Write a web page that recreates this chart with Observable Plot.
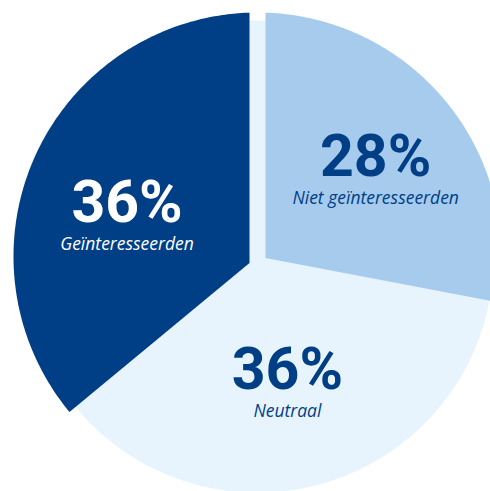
<!DOCTYPE html>
<html>
<head>
<meta charset="utf-8">
<script src="https://cdn.jsdelivr.net/npm/d3@7"></script>
<script src="https://cdn.jsdelivr.net/npm/@observablehq/plot@0.6"></script>
<style>
  html, body { margin: 0; padding: 0; background: #ffffff; }
  #chart svg { display: block; }
</style>
</head>
<body>
<div id="chart"></div>
<script>
// ---- data ----
const categories = ["Niet geïnteresseerden", "Neutraal", "Geïnteresseerden"];
const values = [28, 36, 36];
const valueLabels = ["28%", "36%", "36%"];

// ---- style / layout ----
const colors = ["#a6cbed", "#e8f4fd", "#003e86"];
const textColors = ["#003e86", "#003e86", "#ffffff"];
const W = 490, H = 491, CX = 257, CY = 256;
const radii = [244, 236, 244];
const gapAtTop = 8;            // offset of the two edges meeting at 12 o'clock
const labelShift = [8.5, 2.5, -14]; // degrees relative to slice mid-angle
const labelRadius = [138, 145, 133];

const total = d3.sum(values);
const rad = (deg) => deg * Math.PI / 180;

// slice geometry (angles clockwise from 12 o'clock, math coords y up)
let acc = 0;
const slices = values.map((v, i) => {
  const a0 = acc / total * 360;
  acc += v;
  const a1 = acc / total * 360;
  return {i, a0, a1, d0: a0 === 0 ? gapAtTop : 0, d1: a1 === 360 ? gapAtTop : 0};
});

function sliceRows(s) {
  const R = radii[s.i];
  const u0 = [Math.sin(rad(s.a0)), Math.cos(rad(s.a0))];
  const u1 = [Math.sin(rad(s.a1)), Math.cos(rad(s.a1))];
  const n0 = [Math.cos(rad(s.a0)), -Math.sin(rad(s.a0))];
  const n1 = [-Math.cos(rad(s.a1)), Math.sin(rad(s.a1))];
  const P0 = [s.d0 * n0[0], s.d0 * n0[1]];
  const P1 = [s.d1 * n1[0], s.d1 * n1[1]];
  const det = u0[0] * (-u1[1]) - u0[1] * (-u1[0]);
  const bx = P1[0] - P0[0], by = P1[1] - P0[1];
  const t = (bx * (-u1[1]) - by * (-u1[0])) / det;
  const vx = P0[0] + t * u0[0], vy = P0[1] + t * u0[1];
  const b0 = s.a0 + Math.asin(s.d0 / R) * 180 / Math.PI;
  const b1 = s.a1 - Math.asin(s.d1 / R) * 180 / Math.PI;
  const rows = [{cat: categories[s.i], x: vx, y: vy}];
  const n = 200;
  for (let k = 0; k <= n; k++) {
    const a = rad(b0 + (b1 - b0) * k / n);
    rows.push({cat: categories[s.i], x: R * Math.sin(a), y: R * Math.cos(a)});
  }
  return rows;
}

// background disc in the neutral colour (fills the gap at 12 o'clock)
const disc = d3.range(0, 361, 1).map(a => ({x: radii[1] * Math.sin(rad(a)), y: radii[1] * Math.cos(rad(a))}));

const order = [1, 0, 2];
const sliceData = order.flatMap(i => sliceRows(slices[i]));

const labels = slices.map(s => {
  const a = rad((s.a0 + s.a1) / 2 + labelShift[s.i]);
  const r = labelRadius[s.i];
  return {cat: categories[s.i], value: valueLabels[s.i], x: r * Math.sin(a), y: r * Math.cos(a), color: textColors[s.i]};
});

const plot = Plot.plot({
  width: W,
  height: H,
  margin: 0,
  x: {domain: [-CX, W - CX], axis: null},
  y: {domain: [-(H - CY), CY], axis: null},
  color: {domain: categories, range: colors},
  marks: [
    Plot.line(disc, {x: "x", y: "y", fill: colors[1], stroke: "none", curve: "linear-closed"}),
    Plot.line(sliceData, {x: "x", y: "y", z: "cat", fill: "cat", stroke: "none", curve: "linear-closed"}),
    Plot.text(labels, {x: "x", y: "y", text: "value", fill: "color", dy: -9, lineAnchor: "bottom",
      fontSize: 59, fontWeight: "bold", fontFamily: "Roboto"}),
    Plot.text(labels, {x: "x", y: "y", text: "cat", fill: "color", dy: 19, lineAnchor: "bottom",
      fontSize: 17.5, fontStyle: "italic", fontFamily: "Open Sans"})
  ]
});
document.getElementById("chart").appendChild(plot);
</script>
</body>
</html>
